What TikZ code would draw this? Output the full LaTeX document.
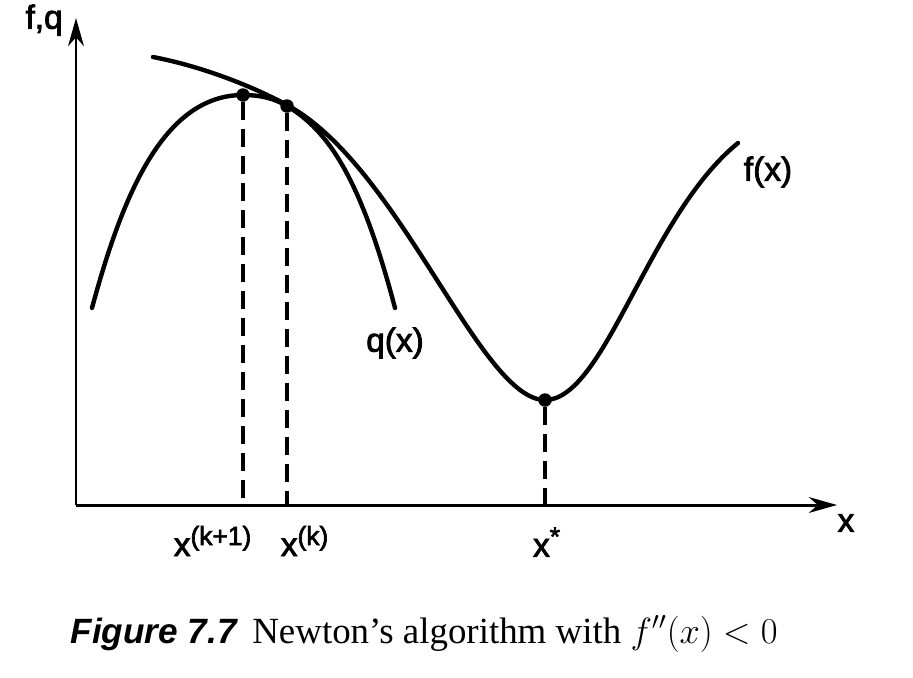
\documentclass[tikz,border=0pt]{standalone}
\usepackage{fontspec}
\setmainfont{Liberation Serif}
\newfontfamily\labfont[FakeBold=2.5]{Liberation Sans}
\newfontfamily\figfont{Liberation Sans}
\usetikzlibrary{arrows.meta}
\begin{document}
\begin{tikzpicture}[x=0.02cm,y=-0.02cm,
  curve/.style={line width=2.5pt,line cap=round,line join=round},
  axis/.style={line width=1.7pt,-{Stealth[length=16pt,width=9pt,inset=5pt]}},
  guide/.style={line width=2pt,dash pattern=on 0.36cm off 0.18cm},
  dot/.style={circle,fill=black,inner sep=0pt,minimum size=0.27cm},
  lab/.style={font=\labfont\fontsize{19}{22}\selectfont,inner sep=0pt}]
\useasboundingbox (0,0) rectangle (913,677);
% axes
\coordinate (O) at (76,505);
\coordinate (ytop) at (76,18);
\coordinate (xend) at (837,505);
\draw[axis] (O) -- (ytop);
\draw[axis] (O) -- (xend);
\node[lab,anchor=south east] (fq) at (63,36) {f,q};
\node[lab] (xl) at (846,523) {x};
% q(x)
\draw[curve] (92,308) .. controls (122,197) and (163,95) .. (243,95)
  .. controls (262,95) and (275,99) .. (287,106)
  .. controls (327,130) and (360,175) .. (395,308);
% f(x)
\draw[curve] (153,57) .. controls (200,66) and (250,85) .. (287,105)
  .. controls (400,166) and (480,400) .. (545,400)
  .. controls (605,400) and (648,216) .. (738,143);
% dots
\node[dot] (xk1) at (243,95) {};
\node[dot] (xk) at (287,106) {};
\node[dot] (xs) at (545,400) {};
% foot points
\coordinate (fk1) at (243,505);
\coordinate (fk) at (287,505);
\coordinate (fs) at (545,505);
\draw[guide] (xk1) -- (fk1);
\draw[guide] (xk) -- (fk);
\draw[guide] (xs) -- (fs);
% labels
\node[lab] (lk1) at (213,541) {x$^{\mbox{\labfont\fontsize{15}{17}\selectfont(k+1)}}$};
\node[lab] (lk) at (305,541) {x$^{\mbox{\labfont\fontsize{15}{17}\selectfont(k)}}$};
\node[lab] (ls) at (547,542) {x$^{\mbox{\labfont\fontsize{15}{17}\selectfont*}}$};
\node[lab] (qx) at (395,343) {q(x)};
\node[lab] (fx) at (768,172) {f(x)};
% caption
\node[anchor=base east,inner sep=0pt,font=\figfont\bfseries\itshape\fontsize{20}{24}\selectfont] (fig) at (237,643) {Figure 7.7};
\node[anchor=base west,inner sep=0pt,font=\fontsize{21}{25}\selectfont] (capt) at (252,643) {Newton’s algorithm with $f''(x) < 0$};
\end{tikzpicture}
\end{document}
